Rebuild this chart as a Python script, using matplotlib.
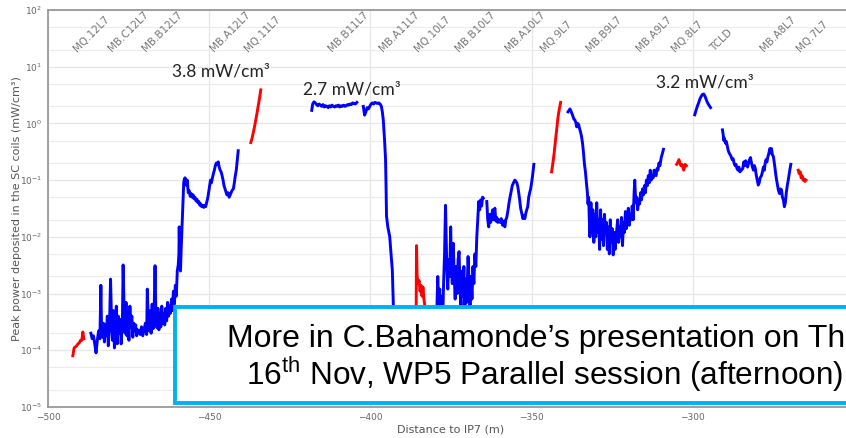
import matplotlib
matplotlib.use("Agg")
import matplotlib.pyplot as plt
from matplotlib.patches import Rectangle
from matplotlib.ticker import LogLocator, FixedLocator, NullFormatter

plt.rcParams['mathtext.fontset'] = 'custom'
plt.rcParams['mathtext.rm'] = 'Liberation Sans'

# ---- data (x: distance to IP7 in m, y: mW/cm3) ----
red1_x = [-492.3, -491.9, -491.5, -491.1, -490.7, -490.3, -489.9, -489.5, -489.2, -488.9]
red1_y = [8e-5, 1.1e-4, 1.15e-4, 1.2e-4, 1.3e-4, 1.35e-4, 1.5e-4, 1.5e-4, 2.1e-4, 1.6e-4]

blue1_x = [-486.7, -486.3, -485.9, -485.5, -485.1, -484.7, -484.3, -483.9, -483.6, -483.4,
           -483.1, -482.8, -482.5, -482.2, -481.9, -481.6, -481.3, -480.9, -480.6, -480.3,
           -480.0, -479.7, -479.4, -479.1, -478.8, -478.5, -478.2, -477.9, -477.6, -477.3,
           -476.9, -476.7, -476.4, -476.1, -475.8, -475.5, -475.2, -474.9, -474.6, -474.3,
           -474.0, -473.7, -473.4, -473.1, -472.8, -472.5, -472.2, -471.8, -471.4, -471.0,
           -470.6, -470.2, -469.8, -469.4, -469.2, -468.9, -468.6, -468.3, -468.0, -467.7,
           -467.4, -467.1, -466.8, -466.5, -466.2, -465.9, -465.6, -465.3, -465.0, -464.7,
           -464.4, -464.1, -463.8, -463.5, -463.2, -462.9, -462.6, -462.3, -462.0, -461.7,
           -461.4, -461.1, -460.8, -460.5, -460.2, -459.9, -459.6, -459.4, -459.3, -459.1,
           -458.9, -458.7, -458.5, -458.3, -458.1, -457.9, -457.7, -457.5, -457.2, -457.0,
           -456.8, -456.5, -456.2, -455.9, -455.6, -455.3, -455.0, -454.7, -454.4, -454.1,
           -453.8, -453.5, -453.2, -452.9, -452.6, -452.3, -452.0, -451.7, -451.4, -451.1,
           -450.8, -450.4, -450.0, -449.6, -449.3, -449.0, -448.7, -448.4, -448.1, -447.8,
           -447.5, -447.2, -446.9, -446.6, -446.3, -446.0, -445.7, -445.4, -445.1, -444.8,
           -444.5, -444.1, -443.8, -443.5, -443.2, -442.9, -442.5, -442.2, -441.9, -441.6,
           -441.3, -441.0]
blue1_y = [2.0e-4, 1.6e-4, 1.8e-4, 1.3e-4, 9e-5, 1.5e-4, 2.2e-4, 1.6e-4, 1.4e-3, 2.5e-4,
           1.7e-4, 3.0e-4, 1.4e-4, 2.8e-4, 1.8e-4, 4.0e-4, 1.2e-4, 3.0e-4, 1.8e-3, 3.5e-4,
           1.5e-4, 5.0e-4, 1.1e-4, 3.0e-4, 6e-4, 1.3e-4, 4.0e-4, 2.0e-4, 3.5e-4, 1.3e-4,
           4e-4, 3.2e-3, 5.5e-4, 2.0e-4, 7e-4, 1.8e-4, 4.5e-4, 1.5e-4, 6e-4, 2.5e-4,
           4e-4, 1.7e-4, 3e-4, 2.2e-4, 2.8e-4, 1.8e-4, 2.3e-4, 2.2e-4, 1.9e-4, 2.6e-4,
           1.8e-4, 2.3e-4, 3.0e-4, 1.9e-4, 1.2e-3, 3.5e-4, 2.2e-4, 5e-4, 2.0e-4, 6.5e-4,
           2.4e-4, 4.5e-4, 3.1e-3, 3.5e-4, 2.5e-4, 5.5e-4, 2.3e-4, 4.5e-4, 2.6e-4, 6e-4,
           3.0e-4, 4.5e-4, 2.8e-4, 5.5e-4, 3.3e-4, 7e-4, 4.0e-4, 6e-4, 4.5e-4, 8e-4,
           5e-4, 1.1e-3, 6.5e-4, 1.4e-3, 9e-4, 2.5e-3, 3.2e-3, 5e-3, 1.5e-2, 4e-3,
           2.5e-3, 6e-3, 1.2e-2, 2.5e-2, 5e-2, 0.09, 0.105, 0.11, 0.1, 0.08,
           0.1, 0.06, 0.065, 0.052, 0.058, 0.05, 0.055, 0.047, 0.05, 0.043,
           0.046, 0.04, 0.042, 0.036, 0.038, 0.034, 0.036, 0.033, 0.036, 0.034,
           0.04, 0.05, 0.07, 0.1, 0.09, 0.11, 0.13, 0.15, 0.18, 0.2,
           0.19, 0.21, 0.17, 0.15, 0.14, 0.12, 0.1, 0.08, 0.07, 0.062,
           0.055, 0.06, 0.05, 0.055, 0.06, 0.066, 0.07, 0.09, 0.12, 0.15,
           0.22, 0.33]

red2_x = [-437.1, -436.7, -436.3, -435.9, -435.5, -435.1, -434.7, -434.3, -434.0]
red2_y = [0.46, 0.55, 0.7, 0.9, 1.2, 1.6, 2.2, 3.0, 3.9]

blue2_x = [-418.2, -417.9, -417.5, -417.1, -416.7, -416.3, -415.9, -415.5, -415.1, -414.7,
           -414.3, -413.9, -413.5, -413.1, -412.7, -412.3, -411.9, -411.5, -411.1, -410.7,
           -410.3, -409.9, -409.5, -409.1, -408.7, -408.3, -407.9, -407.5, -407.1, -406.7,
           -406.3, -405.9, -405.5, -405.1, -404.7, -404.2]
blue2_y = [1.7, 2.2, 2.4, 2.3, 2.15, 2.05, 2.2, 2.1, 2.0, 2.15,
           1.95, 2.05, 2.0, 1.9, 2.05, 1.95, 2.1, 2.0, 1.95, 2.05,
           2.0, 2.1, 1.95, 2.05, 2.0, 2.1, 2.0, 2.05, 2.15, 2.1,
           2.2, 2.15, 2.3, 2.25, 2.2, 2.35]

blue3_x = [-402.2, -401.8, -401.4, -401.0, -400.6, -400.2, -399.8, -399.4, -399.0, -398.6,
           -398.2, -397.8, -397.4, -397.0, -396.6, -396.3, -396.0, -395.6, -395.3, -395.15,
           -395.0, -394.6, -394.0, -393.6, -393.2, -392.9, -392.7]
blue3_y = [2.0, 1.4, 1.6, 1.9, 1.8, 2.0, 2.2, 2.3, 2.2, 2.35,
           2.3, 2.25, 2.3, 2.2, 2.0, 1.6, 1.15, 0.5, 0.23, 0.08,
           0.023, 0.015, 0.01, 0.005, 0.0026, 6.7e-4, 3e-4]

red3_x = [-385.8, -385.7, -385.5, -385.2, -384.9, -384.6, -384.3, -384.0, -383.7, -383.4,
          -383.1, -382.8]
red3_y = [5e-4, 7e-3, 2e-3, 1.5e-3, 1.7e-3, 1.1e-3, 1.4e-3, 9e-4, 1.3e-3, 8e-4,
          6e-4, 3e-4]

blue4_x = [-379.4, -379.1, -378.8, -378.5, -378.2, -377.9, -377.6, -377.3, -377.0, -376.7,
           -376.5, -376.3, -376.0, -375.7, -375.4, -375.1, -374.9, -374.6, -374.3, -374.0,
           -373.7, -373.4, -373.1, -372.8, -372.5, -372.2, -371.9, -371.6, -371.3, -371.0,
           -370.7, -370.4, -370.1, -369.7, -369.4, -369.1, -368.8, -368.5, -368.2, -367.9,
           -367.6, -367.3, -367.0, -366.7, -366.4, -366.1, -365.8, -365.5, -365.2, -365.0]
blue4_y = [5e-4, 2e-3, 6e-4, 1.2e-3, 4e-4, 9e-4, 3e-4, 1.5e-3, 5e-3, 0.036,
           0.01, 3e-3, 1.2e-3, 4e-3, 2e-3, 0.015, 4e-3, 1.5e-3, 7.7e-3, 2e-3,
           8e-4, 3e-3, 1e-3, 4e-3, 5.5e-3, 1.2e-3, 6e-4, 2.5e-3, 9e-4, 3e-3,
           5e-4, 1.8e-3, 7e-4, 4.5e-3, 1.5e-3, 6e-4, 2e-3, 8e-4, 3e-3, 1.5e-3,
           5e-3, 3e-3, 0.01, 0.02, 0.042, 0.03, 0.045, 0.035, 0.05, 0.048]

blue5_x = [-363.9, -363.6, -363.3, -363.0, -362.7, -362.4, -362.1, -361.8, -361.4, -361.1,
           -360.8, -360.5, -360.2, -359.8, -359.4, -359.0, -358.6, -358.3, -358.0, -357.7,
           -357.3, -357.0, -356.7, -356.3, -356.0, -355.6, -355.2, -354.9, -354.6, -354.3,
           -354.0, -353.7, -353.4, -353.0, -352.7, -352.4, -352.1, -351.8, -351.5, -351.2,
           -350.9, -350.6, -350.3, -350.0, -349.7, -349.3]
blue5_y = [0.042, 0.02, 0.015, 0.025, 0.018, 0.022, 0.03, 0.02, 0.032, 0.019,
           0.022, 0.018, 0.02, 0.018, 0.021, 0.016, 0.019, 0.015, 0.02, 0.022,
           0.03, 0.04, 0.05, 0.065, 0.08, 0.09, 0.1, 0.095, 0.09, 0.078,
           0.06, 0.045, 0.032, 0.025, 0.021, 0.024, 0.021, 0.026, 0.03, 0.034,
           0.05, 0.06, 0.07, 0.09, 0.12, 0.19]

red4_x = [-343.8, -343.4, -343.0, -342.6, -342.2, -341.8, -341.4, -341.0]
red4_y = [0.14, 0.2, 0.3, 0.5, 0.8, 1.3, 1.8, 2.35]

blue6_x = [-338.7, -338.4, -338.1, -337.8, -337.5, -337.2, -336.9, -336.6, -336.3, -336.0,
           -335.7, -335.4, -335.1, -334.8, -334.5, -334.2, -333.9, -333.6, -333.3, -333.0,
           -332.7, -332.5, -332.3, -332.1, -331.9, -331.6, -331.3, -331.0, -330.7, -330.4,
           -330.1, -329.8, -329.5, -329.2, -328.9, -328.6, -328.3, -328.0, -327.7, -327.4,
           -327.1, -326.8, -326.5, -326.2, -325.9, -325.6, -325.3, -325.0, -324.7, -324.4,
           -324.1, -323.8, -323.3, -323.0, -322.7, -322.4, -322.1, -321.8, -321.5, -321.2,
           -320.9, -320.6, -320.3, -320.0, -319.7, -319.4, -319.1, -318.8, -318.5, -318.2,
           -318.0, -317.7, -317.4, -317.1, -316.8, -316.5, -316.2, -315.9, -315.6, -315.3,
           -315.0, -314.7, -314.4, -314.1, -313.8, -313.5, -313.2, -312.9, -312.6, -312.3,
           -312.0, -311.7, -311.4, -311.1, -310.8, -310.5, -310.2, -309.8, -309.4, -309.1]
blue6_y = [1.6, 1.7, 1.8, 1.65, 1.5, 1.35, 1.2, 1.15, 1.05, 0.87,
           1.0, 0.95, 0.8, 0.7, 0.58, 0.45, 0.3, 0.19, 0.14, 0.09,
           0.06, 0.038, 0.05, 0.02, 0.01, 0.04, 0.012, 0.03, 0.008, 0.025,
           0.01, 0.04, 0.012, 0.02, 0.006, 0.03, 0.009, 0.02, 0.007, 0.025,
           0.012, 0.018, 0.006, 0.015, 0.005, 0.02, 0.008, 0.014, 0.0048, 0.012,
           0.006, 0.01, 0.02, 0.008, 0.015, 0.01, 0.022, 0.007, 0.018, 0.012,
           0.028, 0.014, 0.02, 0.032, 0.016, 0.025, 0.02, 0.035, 0.02, 0.06,
           0.1, 0.04, 0.05, 0.03, 0.045, 0.038, 0.06, 0.045, 0.07, 0.055,
           0.08, 0.06, 0.1, 0.08, 0.12, 0.09, 0.15, 0.1, 0.12, 0.11,
           0.15, 0.13, 0.12, 0.16, 0.15, 0.2, 0.18, 0.25, 0.3, 0.35]

red5_x = [-305.0, -304.6, -304.3, -304.0, -303.7, -303.4, -303.1, -302.8, -302.4, -302.0]
red5_y = [0.19, 0.21, 0.23, 0.2, 0.18, 0.19, 0.17, 0.15, 0.19, 0.18]

blue7_x = [-299.4, -299.0, -298.6, -298.2, -297.8, -297.4, -297.0, -296.6, -296.2, -295.8,
           -295.4, -295.0, -294.5]
blue7_y = [1.42, 1.7, 2.0, 2.3, 2.7, 3.0, 3.25, 3.3, 3.0, 2.6,
           2.3, 2.1, 1.9]

blue8_x = [-290.8, -290.6, -290.4, -290.2, -289.9, -289.6, -289.3, -289.0, -288.7, -288.4,
           -288.1, -287.8, -287.5, -287.2, -286.9, -286.6, -286.3, -286.0, -285.7, -285.4,
           -284.5, -284.2, -283.9, -283.6, -283.3, -283.0, -282.7, -282.4, -282.1, -281.8,
           -281.5, -281.2, -280.9, -280.6, -280.3, -280.0, -279.7, -279.4, -279.1, -278.7,
           -278.4, -278.1, -277.8, -277.6, -277.3, -277.0, -276.7, -276.4, -276.1, -275.8,
           -275.6, -275.3, -275.0, -274.6, -274.3, -274.0, -273.7, -273.4, -273.1, -272.8,
           -272.5, -272.2, -271.9, -271.6, -271.3, -271.0, -270.7, -270.4, -270.0, -269.6]
blue8_y = [0.77, 0.65, 0.5, 0.55, 0.45, 0.48, 0.4, 0.33, 0.3, 0.28,
           0.26, 0.23, 0.24, 0.2, 0.18, 0.19, 0.16, 0.15, 0.17, 0.14,
           0.16, 0.21, 0.18, 0.22, 0.19, 0.17, 0.2, 0.23, 0.25, 0.2,
           0.17, 0.15, 0.18, 0.16, 0.12, 0.1, 0.082, 0.09, 0.11, 0.12,
           0.14, 0.17, 0.15, 0.19, 0.23, 0.21, 0.26, 0.3, 0.36, 0.3,
           0.36, 0.28, 0.26, 0.18, 0.13, 0.1, 0.08, 0.065, 0.058, 0.07,
           0.068, 0.05, 0.045, 0.034, 0.04, 0.06, 0.08, 0.1, 0.14, 0.19]

red6_x = [-267.3, -267.0, -266.7, -266.4, -266.1, -265.8, -265.5, -265.2, -264.9]
red6_y = [0.15, 0.13, 0.14, 0.11, 0.12, 0.1, 0.105, 0.095, 0.1]

magnets = ["MQ.12L7", "MB.C12L7", "MB.B12L7", "MB.A12L7", "MQ.11L7", "MB.B11L7",
           "MB.A11L7", "MQ.10L7", "MB.B10L7", "MB.A10L7", "MQ.9L7", "MB.B9L7",
           "MB.A9L7", "MQ.8L7", "TCLD", "MB.A8L7", "MQ.7L7"]
magnet_pos = [-491.0, -480.0, -469.6, -448.5, -437.8, -411.8, -396.0, -385.1, -372.5,
              -357.0, -346.1, -332.0, -316.5, -305.3, -293.4, -277.9, -266.6]

peaks = ["3.8 mW/cm³", "2.7 mW/cm³", "3.2 mW/cm³"]
peak_x = [-446.4, -405.9, -296.3]
peak_y = [6.8, 3.18, 4.35]

segments = [
    (red1_x, red1_y, "red"), (blue1_x, blue1_y, "blue"), (red2_x, red2_y, "red"),
    (blue2_x, blue2_y, "blue"), (blue3_x, blue3_y, "blue"), (red3_x, red3_y, "red"),
    (blue4_x, blue4_y, "blue"), (blue5_x, blue5_y, "blue"), (red4_x, red4_y, "red"),
    (blue6_x, blue6_y, "blue"), (red5_x, red5_y, "red"), (blue7_x, blue7_y, "blue"),
    (blue8_x, blue8_y, "blue"), (red6_x, red6_y, "red"),
]

fig = plt.figure(figsize=(8.46, 4.38), dpi=100)
ax = fig.add_axes([48 / 846, 31 / 438, 806 / 846, 397 / 438])

for xs, ys, col in segments:
    ax.plot(xs, ys, color=col, lw=2.1, solid_joinstyle="round")

ax.set_yscale("log")
ax.set_xlim(-500, -250)
ax.set_ylim(1e-5, 1e2)
ax.xaxis.set_major_locator(FixedLocator([-500, -450, -400, -350, -300]))
ax.yaxis.set_major_locator(LogLocator(base=10, numticks=10))
ax.yaxis.set_minor_locator(LogLocator(base=10, subs=(2.0, 5.0), numticks=10))
ax.yaxis.set_minor_formatter(NullFormatter())
ax.grid(True, which="major", color="#e6e6e6", lw=0.9)
ax.grid(True, which="minor", axis="y", color="#ececec", lw=0.8)
ax.set_axisbelow(True)
ax.tick_params(which="both", length=0, labelsize=6.5, labelcolor="#666666", pad=4)
for side in ["left", "top", "bottom"]:
    ax.spines[side].set_color("#999999")
    ax.spines[side].set_linewidth(1.3)
ax.spines["right"].set_visible(False)

ax.set_xlabel("Distance to IP7 (m)", fontsize=8, color="#555555")
ax.xaxis.set_label_coords(0.5, -0.043)
ax.set_ylabel("Peak power deposited in the SC coils (mW/cm³)", fontsize=8, color="#555555")
ax.yaxis.set_label_coords(-0.032, 0.5)

for name, xp in zip(magnets, magnet_pos):
    ax.text(xp, 18.0, name, rotation=45, rotation_mode="anchor", ha="left", va="baseline",
            fontsize=7.5, color="#777777")

for label, xp, yp in zip(peaks, peak_x, peak_y):
    ax.text(xp, yp, label, ha="center", va="baseline", fontsize=12.5, color="#222222",
            family="Lato")

box = Rectangle((175 / 846, (438 - 403) / 438), 2.0, 96 / 438, transform=fig.transFigure,
                facecolor="white", edgecolor="#00B0F0", lw=2.8, zorder=10)
fig.patches.append(box)
fig.text(545 / 846, (438 - 347) / 438, "More in C.Bahamonde’s presentation on Thu",
         ha="center", va="baseline", fontsize=23, family="Liberation Sans", color="black", zorder=11)
fig.text(545 / 846, (438 - 385) / 438, "16$^{\\mathrm{th}}$ Nov, WP5 Parallel session (afternoon)",
         ha="center", va="baseline", fontsize=22.7, family="Liberation Sans", color="black", zorder=11)

fig.savefig("out.png", dpi=100)
